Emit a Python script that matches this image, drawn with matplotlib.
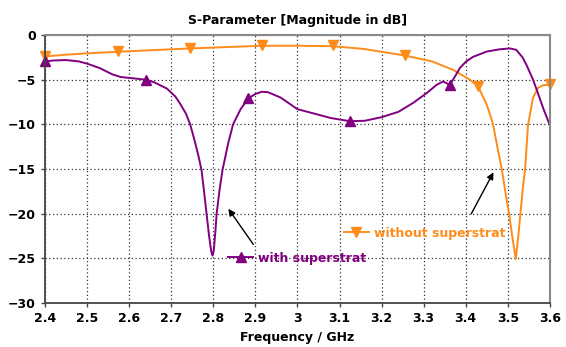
import numpy as np
import matplotlib.pyplot as plt
from matplotlib.lines import Line2D

# S11 with superstrat (GHz, dB)
f_with = [2.40, 2.42, 2.45, 2.48, 2.50, 2.53, 2.56, 2.58, 2.61, 2.64, 2.66, 2.69,
          2.71, 2.72, 2.735, 2.745, 2.755, 2.765, 2.772, 2.778, 2.784, 2.79, 2.795,
          2.798, 2.801, 2.805, 2.808, 2.815, 2.822, 2.835, 2.847, 2.865, 2.883,
          2.90, 2.915, 2.93, 2.96, 3.00, 3.04, 3.08, 3.125, 3.16, 3.20, 3.24,
          3.275, 3.31, 3.33, 3.346, 3.355, 3.362, 3.375, 3.386, 3.40, 3.417,
          3.45, 3.48, 3.505, 3.52, 3.535, 3.545, 3.56, 3.57, 3.585, 3.60]
s_with = [-2.95, -2.85, -2.8, -2.95, -3.2, -3.7, -4.4, -4.7, -4.85, -5.0, -5.3, -6.0,
          -6.9, -7.6, -8.8, -10.0, -11.7, -13.6, -15.1, -17.5, -20.0, -22.5, -24.2,
          -24.7, -24.2, -22.0, -20.0, -17.3, -15.1, -12.2, -10.0, -8.3, -7.1,
          -6.6, -6.35, -6.4, -7.0, -8.3, -8.8, -9.3, -9.65, -9.6, -9.2, -8.6,
          -7.6, -6.4, -5.6, -5.2, -5.4, -5.6, -4.6, -3.7, -3.0, -2.45,
          -1.85, -1.6, -1.5, -1.65, -2.5, -3.4, -5.0, -6.3, -8.3, -10.1]
f_with_mk = [2.40, 2.64, 2.883, 3.125, 3.362]
s_with_mk = [-2.95, -5.0, -7.1, -9.65, -5.6]

# S11 without superstrat
f_wo = [2.40, 2.45, 2.50, 2.574, 2.65, 2.745, 2.83, 2.916, 2.96, 3.00, 3.085,
        3.156, 3.21, 3.256, 3.32, 3.37, 3.41, 3.43, 3.45, 3.465, 3.475, 3.486,
        3.495, 3.503, 3.512, 3.519, 3.525, 3.53, 3.536, 3.541, 3.548, 3.56,
        3.572, 3.585, 3.60]
s_wo = [-2.4, -2.2, -2.05, -1.87, -1.7, -1.5, -1.35, -1.2, -1.2, -1.2, -1.25,
        -1.55, -1.95, -2.3, -2.95, -3.9, -5.0, -5.8, -7.8, -10.0, -12.5, -15.1,
        -17.8, -20.0, -23.0, -25.1, -22.5, -20.0, -17.0, -15.1, -10.1, -7.0,
        -5.9, -5.6, -5.6]
f_wo_mk = [2.40, 2.574, 2.745, 2.916, 3.085, 3.256, 3.43, 3.60]
s_wo_mk = [-2.3, -1.8, -1.4, -1.1, -1.15, -2.25, -5.7, -5.5]

purple = '#800080'
orange = '#ff8c1a'

fig = plt.figure(figsize=(5.66, 3.47), dpi=100)
ax = fig.add_axes([0.0795, 0.127, 0.892, 0.772])

ax.plot(f_wo, s_wo, color=orange, lw=1.4)
ax.plot(f_wo_mk, s_wo_mk, 'v', color=orange, ms=7, clip_on=False)
ax.plot(f_with, s_with, color=purple, lw=1.4)
ax.plot(f_with_mk, s_with_mk, '^', color=purple, ms=7, clip_on=False)

ax.set_xlim(2.4, 3.6)
ax.set_ylim(-30, 0)
ax.set_xticks(np.arange(2.4, 3.61, 0.1))
ax.set_xticklabels(['2.4', '2.5', '2.6', '2.7', '2.8', '2.9', '3', '3.1',
                    '3.2', '3.3', '3.4', '3.5', '3.6'])
ax.set_yticks(np.arange(-30, 1, 5))
ax.grid(True, color='#333333', ls=(0, (1, 2)), lw=0.9)
ax.tick_params(direction='out', length=3, width=1, colors='#444444',
               labelcolor='black', labelsize=9)
for lbl in ax.get_xticklabels() + ax.get_yticklabels():
    lbl.set_fontweight('bold')

for side in ['left', 'bottom']:
    ax.spines[side].set_color('#444444')
    ax.spines[side].set_linewidth(1.3)
for side in ['top', 'right']:
    ax.spines[side].set_color('#8a8a8a')
    ax.spines[side].set_linewidth(1.5)

ax.set_title('S-Parameter [Magnitude in dB]', fontsize=9, fontweight='bold', pad=8)
ax.set_xlabel('Frequency / GHz', fontsize=9, fontweight='bold', labelpad=4)

# inline legend entries with arrows to the curves
h_with = Line2D([], [], color=purple, lw=1.4, marker='^', ms=7)
h_wo = Line2D([], [], color=orange, lw=1.4, marker='v', ms=7)
lg1 = ax.legend([h_with], ['with superstrat'], loc='center left',
                bbox_to_anchor=(2.835, -25.0), bbox_transform=ax.transData,
                frameon=False, handlelength=2.0, handletextpad=0.4,
                borderpad=0, borderaxespad=0, labelcolor='linecolor',
                prop={'weight': 'bold', 'size': 9})
ax.add_artist(lg1)
ax.legend([h_wo], ['without superstrat'], loc='center left',
          bbox_to_anchor=(3.11, -22.2), bbox_transform=ax.transData,
          frameon=False, handlelength=2.0, handletextpad=0.4,
          borderpad=0, borderaxespad=0, labelcolor='linecolor',
          prop={'weight': 'bold', 'size': 9})

ax.annotate('', xy=(2.832, -19.2), xytext=(2.899, -23.7),
            arrowprops=dict(arrowstyle='-|>', color='black', lw=1,
                            mutation_scale=10))
ax.annotate('', xy=(3.469, -15.1), xytext=(3.41, -20.3),
            arrowprops=dict(arrowstyle='-|>', color='black', lw=1,
                            mutation_scale=10))

fig.savefig('out.png', dpi=100)
